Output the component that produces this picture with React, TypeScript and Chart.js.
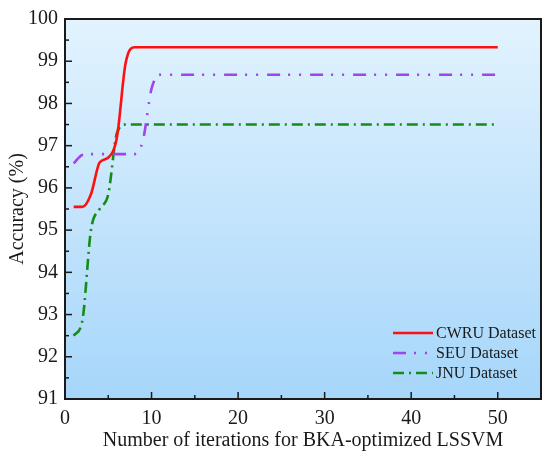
import React, { useEffect, useRef } from "react";
import { Chart, registerables } from "chart.js";

Chart.register(...registerables);

const iterations = [
  1, 2, 3, 4, 5, 6, 7, 8, 9, 10, 11, 12, 13, 14, 15, 16, 17, 18, 19, 20, 21, 22, 23, 24, 25,
  26, 27, 28, 29, 30, 31, 32, 33, 34, 35, 36, 37, 38, 39, 40, 41, 42, 43, 44, 45, 46, 47, 48, 49, 50,
];

const cwru = [
  95.55, 95.55, 95.85, 96.6, 96.72, 97.2, 98.95, 99.33, 99.33, 99.33, 99.33, 99.33, 99.33, 99.33, 99.33,
  99.33, 99.33, 99.33, 99.33, 99.33, 99.33, 99.33, 99.33, 99.33, 99.33, 99.33, 99.33, 99.33, 99.33, 99.33,
  99.33, 99.33, 99.33, 99.33, 99.33, 99.33, 99.33, 99.33, 99.33, 99.33, 99.33, 99.33, 99.33, 99.33, 99.33,
  99.33, 99.33, 99.33, 99.33, 99.33,
];

const seu = [
  96.58, 96.78, 96.8, 96.8, 96.8, 96.8, 96.8, 96.8, 97.12, 98.35, 98.68, 98.68, 98.68, 98.68, 98.68,
  98.68, 98.68, 98.68, 98.68, 98.68, 98.68, 98.68, 98.68, 98.68, 98.68, 98.68, 98.68, 98.68, 98.68, 98.68,
  98.68, 98.68, 98.68, 98.68, 98.68, 98.68, 98.68, 98.68, 98.68, 98.68, 98.68, 98.68, 98.68, 98.68, 98.68,
  98.68, 98.68, 98.68, 98.68, 98.68,
];

const jnu = [
  92.5, 92.85, 95.0, 95.5, 95.85, 97.3, 97.5, 97.5, 97.5, 97.5, 97.5, 97.5, 97.5, 97.5, 97.5,
  97.5, 97.5, 97.5, 97.5, 97.5, 97.5, 97.5, 97.5, 97.5, 97.5, 97.5, 97.5, 97.5, 97.5, 97.5,
  97.5, 97.5, 97.5, 97.5, 97.5, 97.5, 97.5, 97.5, 97.5, 97.5, 97.5, 97.5, 97.5, 97.5, 97.5,
  97.5, 97.5, 97.5, 97.5, 97.5,
];

const seriesLabels = ["CWRU Dataset", "SEU Dataset", "JNU Dataset"];
const xTickValues = [0, 10, 20, 30, 40, 50];

const FONT = "'Liberation Serif', 'Times New Roman', serif";
const INK = "#1a1a1a";

const decorPlugin = {
  id: "decor",
  beforeDraw(chart: any) {
    const { ctx, chartArea: a } = chart;
    ctx.save();
    const g = ctx.createLinearGradient(0, a.top, 0, a.bottom);
    g.addColorStop(0, "#e2f3fe");
    g.addColorStop(1, "#a6d6fa");
    ctx.fillStyle = g;
    ctx.fillRect(a.left, a.top, a.right - a.left, a.bottom - a.top);
    ctx.restore();
  },
  afterDatasetsDraw(chart: any) {
    const { ctx, chartArea: a } = chart;
    const xs = chart.scales.x;
    const ys = chart.scales.y;
    ctx.save();
    ctx.strokeStyle = INK;
    ctx.lineWidth = 1.5;
    ys.ticks.forEach((t: any, i: number) => {
      const py = ys.getPixelForValue(t.value);
      ctx.beginPath();
      ctx.moveTo(a.left, py);
      ctx.lineTo(a.left + 7, py);
      ctx.stroke();
      if (i < ys.ticks.length - 1) {
        const my = ys.getPixelForValue((t.value + ys.ticks[i + 1].value) / 2);
        ctx.beginPath();
        ctx.moveTo(a.left, my);
        ctx.lineTo(a.left + 4, my);
        ctx.stroke();
      }
    });
    xs.ticks.forEach((t: any, i: number) => {
      const px = xs.getPixelForValue(t.value);
      ctx.beginPath();
      ctx.moveTo(px, a.bottom);
      ctx.lineTo(px, a.bottom - 7);
      ctx.stroke();
      if (i < xs.ticks.length - 1) {
        const mx = xs.getPixelForValue((t.value + xs.ticks[i + 1].value) / 2);
        ctx.beginPath();
        ctx.moveTo(mx, a.bottom);
        ctx.lineTo(mx, a.bottom - 4);
        ctx.stroke();
      }
    });
    ctx.lineWidth = 2;
    ctx.strokeRect(a.left, a.top, a.right - a.left, a.bottom - a.top);

    const lx0 = a.right - 148;
    const lx1 = lx0 + 40;
    const ly0 = a.bottom - 66;
    ctx.font = `16px ${FONT}`;
    ctx.textBaseline = "middle";
    ctx.textAlign = "left";
    chart.data.datasets.forEach((ds: any, i: number) => {
      const y = ly0 + i * 20;
      ctx.save();
      ctx.strokeStyle = ds.borderColor;
      ctx.lineWidth = ds.borderWidth;
      ctx.setLineDash(ds.borderDash || []);
      ctx.beginPath();
      ctx.moveTo(lx0, y);
      ctx.lineTo(lx1, y);
      ctx.stroke();
      ctx.restore();
      ctx.fillStyle = INK;
      ctx.fillText(ds.label, lx1 + 3, y + 1);
    });
    ctx.restore();
  },
};

export default function App() {
  const ref = useRef<HTMLCanvasElement | null>(null);
  useEffect(() => {
    if (!ref.current) return;
    const mk = (vals: number[]) => iterations.map((x, i) => ({ x, y: vals[i] }));
    const chart = new Chart(ref.current, {
      type: "line",
      data: {
        datasets: [
          {
            label: seriesLabels[0],
            data: mk(cwru),
            borderColor: "#ff1010",
            borderWidth: 2.6,
            pointRadius: 0,
            cubicInterpolationMode: "monotone",
          },
          {
            label: seriesLabels[1],
            data: mk(seu),
            borderColor: "#a044ee",
            borderWidth: 2.6,
            borderDash: [13, 8, 2, 9, 2, 9],
            pointRadius: 0,
            cubicInterpolationMode: "monotone",
          },
          {
            label: seriesLabels[2],
            data: mk(jnu),
            borderColor: "#138c18",
            borderWidth: 2.6,
            borderDash: [11, 5, 2, 5],
            pointRadius: 0,
            cubicInterpolationMode: "monotone",
          },
        ],
      },
      options: {
        animation: false,
        responsive: false,
        layout: { padding: { left: 0, top: 16, right: 9, bottom: 0 } },
        plugins: { legend: { display: false }, tooltip: { enabled: false } },
        scales: {
          x: {
            type: "linear",
            min: 0,
            max: 55,
            grid: { display: false, drawTicks: false, tickLength: 0 },
            border: { display: false },
            afterBuildTicks: (s: any) => {
              s.ticks = xTickValues.map((v) => ({ value: v }));
            },
            afterFit: (s: any) => {
              s.height = 60;
            },
            ticks: {
              color: INK,
              padding: 8,
              font: { family: FONT, size: 20 },
            },
            title: {
              display: true,
              text: "Number of iterations for BKA-optimized LSSVM",
              color: INK,
              font: { family: FONT, size: 20 },
              padding: { top: 0, bottom: 6 },
            },
          },
          y: {
            type: "linear",
            min: 91,
            max: 100,
            grid: { display: false, drawTicks: false, tickLength: 0 },
            border: { display: false },
            afterFit: (s: any) => {
              s.width = 65;
            },
            ticks: {
              stepSize: 1,
              color: INK,
              padding: 7,
              font: { family: FONT, size: 20 },
            },
            title: {
              display: true,
              text: "Accuracy (%)",
              color: INK,
              font: { family: FONT, size: 20 },
              padding: { top: 6, bottom: 0 },
            },
          },
        },
      },
      plugins: [decorPlugin],
    } as any);
    return () => chart.destroy();
  }, []);
  return (
    <div style={{ position: "fixed", left: 0, top: 0, width: 550, height: 459, background: "#fff" }}>
      <canvas ref={ref} width={550} height={459} />
    </div>
  );
}
